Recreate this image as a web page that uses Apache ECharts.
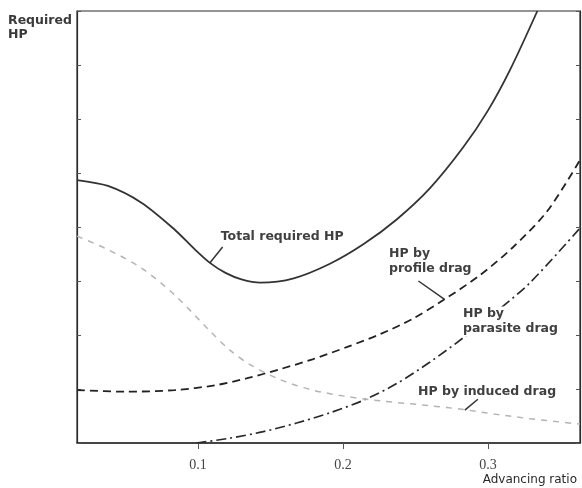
<!DOCTYPE html>
<html>
<head>
<meta charset="utf-8">
<script src="https://cdn.jsdelivr.net/npm/echarts@6/dist/echarts.min.js"></script>
<style>
  html, body { margin: 0; padding: 0; background: #fff; }
  #chart { width: 582px; height: 488px; }
</style>
</head>
<body>
<div id="chart"></div>
<script>
// Advancing ratio range shown on the horizontal axis
const xRange = [0.0166, 0.3634];
const xTickValues = [0.1, 0.2, 0.3];

// Required horsepower curves: [advancing ratio, HP (relative units)]
const totalHP = [
  [0.0166, 4.87], [0.038, 4.76], [0.061, 4.45], [0.084, 3.95], [0.098, 3.58],
  [0.108, 3.34], [0.119, 3.15], [0.130, 3.03], [0.143, 2.97], [0.166, 3.05],
  [0.191, 3.32], [0.214, 3.68], [0.237, 4.14], [0.260, 4.72], [0.283, 5.48],
  [0.300, 6.16], [0.315, 6.90], [0.334, 8.00]
];
const profileHP = [
  [0.0166, 0.98], [0.050, 0.95], [0.084, 0.98], [0.112, 1.07], [0.134, 1.20],
  [0.157, 1.37], [0.179, 1.55], [0.203, 1.78], [0.226, 2.02], [0.248, 2.30],
  [0.270, 2.66], [0.294, 3.10], [0.317, 3.62], [0.341, 4.30], [0.3634, 5.24]
];
const parasiteHP = [
  [0.099, 0.00], [0.122, 0.09], [0.145, 0.21], [0.168, 0.37], [0.191, 0.56],
  [0.214, 0.79], [0.237, 1.10], [0.260, 1.50], [0.283, 1.95], [0.306, 2.44],
  [0.329, 2.97], [0.3634, 3.98]
];
const inducedHP = [
  [0.0166, 3.83], [0.038, 3.58], [0.061, 3.24], [0.084, 2.74], [0.108, 2.08],
  [0.122, 1.72], [0.136, 1.45], [0.157, 1.17], [0.179, 0.98], [0.203, 0.86],
  [0.226, 0.78], [0.260, 0.69], [0.283, 0.62], [0.306, 0.53], [0.329, 0.45],
  [0.3634, 0.35]
];

// Curve captions, anchored in data coordinates (left edge, top of text)
const captions = [
  { text: 'Total required HP', at: [0.115, 3.95] },
  { text: 'HP by\nprofile drag', at: [0.231, 3.65] },
  { text: 'HP by\nparasite drag', at: [0.282, 2.53] },
  { text: 'HP by induced drag', at: [0.251, 1.08] }
];
// Leader lines from caption to curve
const leaders = [
  [[0.117, 3.63], [0.108, 3.33]],
  [[0.252, 3.00], [0.270, 2.66]],
  [[0.293, 0.81], [0.284, 0.61]]
];

const chart = echarts.init(document.getElementById('chart'), null, { renderer: 'canvas' });

const ink = '#2b2b2b';
const captionFont = { fontFamily: 'DejaVu Sans', fontSize: 12.5, fontWeight: 'bold', fill: '#404040' };

function yAxisCfg(position) {
  return {
    type: 'value', min: 0, max: 8, interval: 1, position: position,
    axisLine: { show: true, lineStyle: { color: ink, width: 1.2 } },
    axisTick: { show: true, inside: true, length: 4, lineStyle: { color: '#555' } },
    axisLabel: { show: false },
    splitLine: { show: false }
  };
}

function curve(name, data, lineStyle) {
  return { type: 'line', name: name, data: data, smooth: 0.3,
    showSymbol: false, lineStyle: lineStyle };
}

chart.setOption({
  animation: false,
  backgroundColor: '#fff',
  grid: { left: 77, right: 2, top: 11, bottom: 45, show: true, borderColor: ink, borderWidth: 1.2 },
  xAxis: {
    type: 'value', min: xRange[0], max: xRange[1],
    axisLine: { show: true, onZero: false, lineStyle: { color: ink, width: 1.5 } },
    axisTick: { show: true, customValues: xTickValues, length: 6, lineStyle: { color: '#555' } },
    axisLabel: {
      customValues: xTickValues, margin: 15,
      fontFamily: 'Liberation Serif', fontSize: 14, color: '#444',
      formatter: v => v.toFixed(1)
    },
    splitLine: { show: false }
  },
  yAxis: [yAxisCfg('left'), yAxisCfg('right')],
  series: [
    curve('Total required HP', totalHP, { color: '#333', width: 1.8 }),
    curve('HP by profile drag', profileHP, { color: '#222', width: 1.8, type: [8, 5] }),
    curve('HP by parasite drag', parasiteHP, { color: '#2a2a2a', width: 1.7, type: [10, 4, 2, 4] }),
    curve('HP by induced drag', inducedHP, { color: '#b4b4b4', width: 1.5, type: [6, 6] })
  ]
});

// Place captions (on a white backing so curves break around them), leaders and axis titles
const px = p => chart.convertToPixel({ xAxisIndex: 0, yAxisIndex: 0 }, p);
const graphics = [];
captions.forEach(c => {
  const p = px(c.at);
  graphics.push({ type: 'text', x: p[0], y: p[1], z: 100,
    style: Object.assign({ text: c.text, lineHeight: 15, textVerticalAlign: 'top',
      backgroundColor: '#fff', padding: [0, 1] }, captionFont) });
});
leaders.forEach(l => {
  const a = px(l[0]), b = px(l[1]);
  graphics.push({ type: 'line', z: 100, shape: { x1: a[0], y1: a[1], x2: b[0], y2: b[1] },
    style: { stroke: '#333', lineWidth: 1.5 } });
});
graphics.push({ type: 'text', left: 8, top: 14,
  style: { text: 'Required\nHP', lineHeight: 14, fontFamily: 'DejaVu Sans', fontSize: 12.5, fontWeight: 'bold', fill: '#3a3a3a' } });
graphics.push({ type: 'text', right: 5, top: 474,
  style: { text: 'Advancing ratio', fontFamily: 'DejaVu Sans', fontSize: 12, fill: '#2a2a2a' } });
chart.setOption({ graphic: graphics });
</script>
</body>
</html>
